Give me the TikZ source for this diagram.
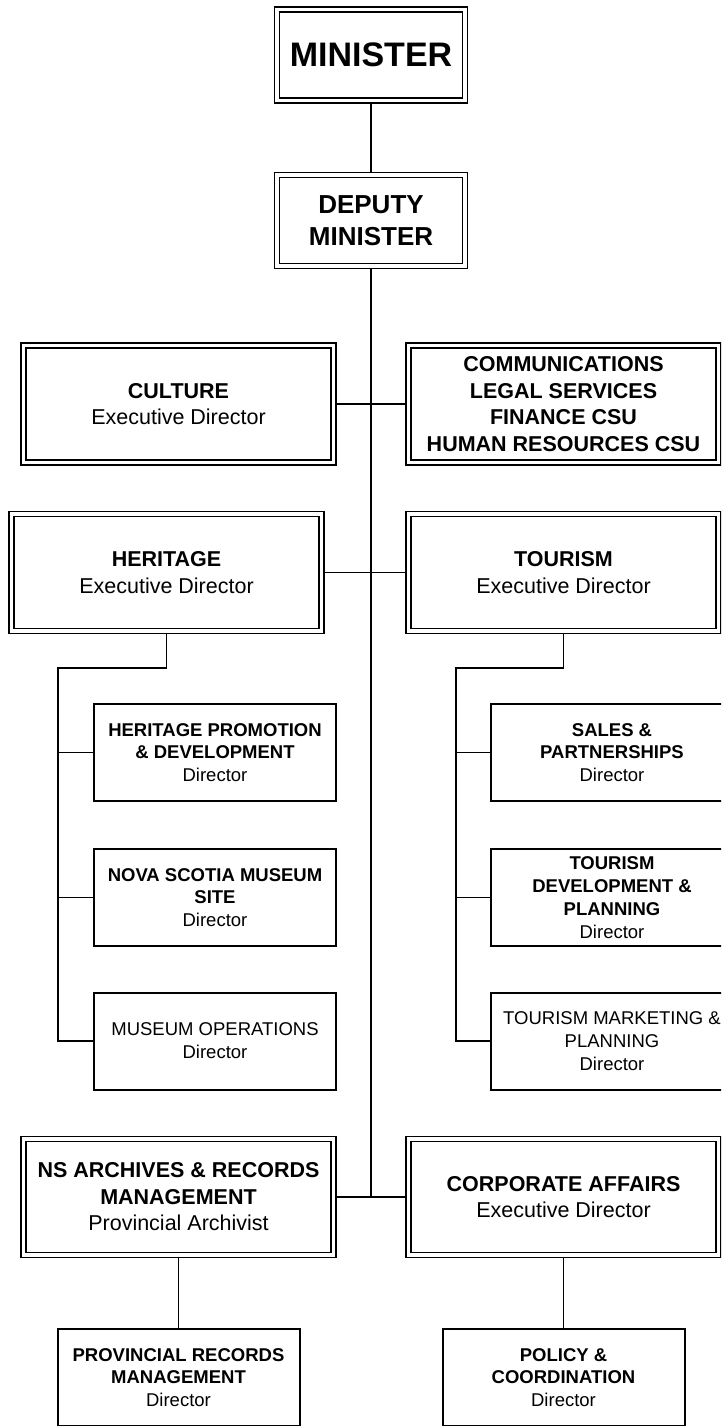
\documentclass[tikz,border=0pt]{standalone}
\usepackage{fontspec}
\setmainfont{Liberation Sans}
\usetikzlibrary{backgrounds}
\begin{document}
\begin{tikzpicture}[x=1pt,y=-1pt,
  dbox/.style={draw, line width=1.8pt, double, double distance=3.2pt, fill=white, align=center, inner sep=0pt, font=\fontsize{21.5}{26.5}\selectfont},
  big/.style={minimum width=310pt, minimum height=117pt},
  topbox/.style={minimum width=188pt, minimum height=91pt},
  sbox/.style={draw, line width=2pt, fill=white, align=center, inner sep=0pt, minimum width=242pt, minimum height=97pt, font=\fontsize{18.5}{22.8}\selectfont},
  conn/.style={line width=1.8pt},
  trunk/.style={line width=2.6pt}]
\useasboundingbox (0,0) rectangle (721,1426);
\clip (0,0) rectangle (721,1426);

% top
\node[dbox, topbox, font=\fontsize{34}{40}\selectfont] (min) at (371,55) {\textbf{MINISTER}};
\node[dbox, topbox, font=\fontsize{26}{31.5}\selectfont] (dep) at (371,220.5) {\textbf{DEPUTY}\\\textbf{MINISTER}};

% level boxes
\node[dbox, big] (cul) at (178.5,404) {\textbf{CULTURE}\\Executive Director};
\node[dbox, big] (com) at (563.5,404) {\textbf{COMMUNICATIONS}\\\textbf{LEGAL SERVICES}\\\textbf{FINANCE CSU}\\\textbf{HUMAN RESOURCES CSU}};
\node[dbox, big] (her) at (166.5,572.5) {\textbf{HERITAGE}\\Executive Director};
\node[dbox, big] (tou) at (563.5,572.5) {\textbf{TOURISM}\\Executive Director};
\node[dbox, big, minimum height=116pt] (arc) at (178.5,1197) {\textbf{NS ARCHIVES \& RECORDS}\\\textbf{MANAGEMENT}\\Provincial Archivist};
\node[dbox, big, minimum height=116pt] (cor) at (563.5,1197) {\textbf{CORPORATE AFFAIRS}\\Executive Director};

% heritage children
\node[sbox] (hpd) at (215,752.5) {\textbf{HERITAGE PROMOTION}\\\textbf{\& DEVELOPMENT}\\Director};
\node[sbox] (nsm) at (215,897.5) {\textbf{NOVA SCOTIA MUSEUM}\\\textbf{SITE}\\Director};
\node[sbox] (mop) at (215,1041) {MUSEUM OPERATIONS\\Director};

% tourism children
\node[sbox] (sal) at (612,752.5) {\textbf{SALES \&}\\\textbf{PARTNERSHIPS}\\Director};
\node[sbox] (tdp) at (612,897.5) {\textbf{TOURISM}\\\textbf{DEVELOPMENT \&}\\\textbf{PLANNING}\\Director};
\node[sbox] (tmp) at (612,1041) {TOURISM MARKETING \&\\PLANNING\\Director};

% bottom children
\node[sbox] (prv) at (178.5,1377.5) {\textbf{PROVINCIAL RECORDS}\\\textbf{MANAGEMENT}\\Director};
\node[sbox] (pol) at (563.5,1377.5) {\textbf{POLICY \&}\\\textbf{COORDINATION}\\Director};

\coordinate (mainend) at (371,1197);
\coordinate (hbus) at (58,668);
\coordinate (tbus) at (456,668);

\begin{pgfonlayer}{background}
\draw[conn] (min.south) -- (dep.north);
\draw[trunk] (dep.south) -- (mainend);
\draw[conn] (cul.east) -- (com.west);
\draw[conn] (her.east) -- (tou.west);
\draw[conn] (arc.east) -- (cor.west);
\draw[conn] (her.south) |- (hbus) |- (mop.west);
\draw[conn] (hpd.west) -- (hpd.west -| hbus);
\draw[conn] (nsm.west) -- (nsm.west -| hbus);
\draw[conn] (tou.south) |- (tbus) |- (tmp.west);
\draw[conn] (sal.west) -- (sal.west -| tbus);
\draw[conn] (tdp.west) -- (tdp.west -| tbus);
\draw[conn] (arc.south) -- (prv.north);
\draw[conn] (cor.south) -- (pol.north);
\end{pgfonlayer}
\end{tikzpicture}
\end{document}
